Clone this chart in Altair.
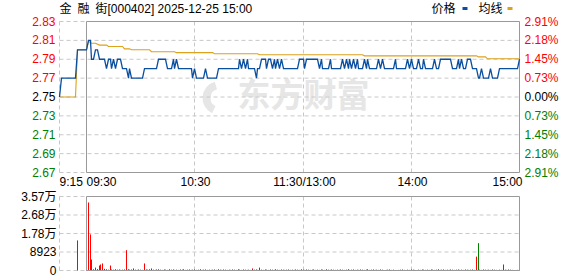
import altair as alt
import pandas as pd

# ---------------- data ----------------
prev_close = 2.75
price_ticks = [2.83, 2.81, 2.79, 2.77, 2.75, 2.73, 2.71, 2.69, 2.67]
price_labels = ["2.83", "2.81", "2.79", "2.77", "2.75", "2.73", "2.71", "2.69", "2.67"]
pct_labels = ["2.91%", "2.18%", "1.45%", "0.73%", "0.00%", "0.73%", "1.45%", "2.18%", "2.91%"]
vol_ticks = [35692, 26769, 17846, 8923, 0]
vol_labels = ["3.57万", "2.68万", "1.78万", "8923", "0"]

# minutes since 9:15 (9:30 = 15, 11:30/13:00 = 135, 15:00 = 255)
time_ticks = [0, 15, 75, 135, 195, 255]
time_labels = ["9:15", "09:30", "10:30", "11:30/13:00", "14:00", "15:00"]
time_align = ["left", "left", "center", "center", "center", "right"]
grid_times = [0, 75, 135, 195]

# call auction 9:15 .. 9:25
pre_price = [2.75, 2.77, 2.77, 2.77, 2.77, 2.77, 2.77, 2.77, 2.77, 2.77, 2.80]
pre_avg = [2.75, 2.75, 2.75, 2.75, 2.75, 2.75, 2.75, 2.75, 2.75, 2.75, 2.80]
pre_vol = [0, 0, 0, 0, 0, 0, 0, 0, 0, 0, 14500]

# continuous session, one value per minute 9:30 .. 15:00 (241 values)
price = [
    2.80, 2.81, 2.81, 2.79, 2.79, 2.80, 2.80, 2.79, 2.79, 2.79,
    2.79, 2.78, 2.79, 2.79, 2.78, 2.79, 2.78, 2.79, 2.79, 2.79,
    2.78, 2.78, 2.78, 2.77, 2.78, 2.77, 2.77, 2.77, 2.77, 2.77,
    2.77, 2.77, 2.78, 2.78, 2.78, 2.78, 2.78, 2.78, 2.78, 2.78,
    2.79, 2.79, 2.79, 2.79, 2.79, 2.78, 2.78, 2.78, 2.79, 2.78,
    2.79, 2.78, 2.78, 2.78, 2.78, 2.78, 2.78, 2.78, 2.78, 2.77,
    2.78, 2.77, 2.77, 2.77, 2.77, 2.77, 2.78, 2.77, 2.77, 2.77,
    2.77, 2.77, 2.77, 2.78, 2.78, 2.78, 2.78, 2.78, 2.78, 2.78,
    2.78, 2.78, 2.78, 2.78, 2.78, 2.79, 2.78, 2.79, 2.78, 2.79,
    2.78, 2.78, 2.78, 2.78, 2.77, 2.78, 2.78, 2.79, 2.79, 2.79,
    2.78, 2.79, 2.79, 2.78, 2.79, 2.78, 2.79, 2.78, 2.79, 2.78,
    2.78, 2.78, 2.78, 2.78, 2.78, 2.78, 2.78, 2.78, 2.79, 2.79,
    2.79, 2.78, 2.79, 2.79, 2.79, 2.79, 2.79, 2.79, 2.79, 2.78,
    2.79, 2.78, 2.78, 2.78, 2.78, 2.79, 2.78, 2.78, 2.78, 2.78,
    2.78, 2.78, 2.79, 2.78, 2.79, 2.78, 2.79, 2.78, 2.79, 2.78,
    2.79, 2.78, 2.78, 2.78, 2.79, 2.78, 2.79, 2.78, 2.78, 2.78,
    2.78, 2.78, 2.79, 2.78, 2.79, 2.78, 2.78, 2.78, 2.78, 2.78,
    2.78, 2.79, 2.78, 2.78, 2.78, 2.78, 2.78, 2.78, 2.79, 2.78,
    2.79, 2.78, 2.78, 2.78, 2.79, 2.78, 2.78, 2.79, 2.78, 2.78,
    2.78, 2.78, 2.78, 2.79, 2.78, 2.78, 2.79, 2.79, 2.79, 2.79,
    2.79, 2.79, 2.79, 2.78, 2.78, 2.78, 2.79, 2.78, 2.79, 2.78,
    2.78, 2.79, 2.79, 2.79, 2.78, 2.78, 2.78, 2.77, 2.77, 2.78,
    2.77, 2.77, 2.77, 2.77, 2.78, 2.77, 2.77, 2.77, 2.77, 2.78,
    2.78, 2.78, 2.78, 2.78, 2.78, 2.78, 2.78, 2.78, 2.78, 2.78,
    2.79,
]

# average price line, read at its step points (minute index, value)
avg_minutes = [0, 1, 3, 5, 7, 11, 12, 20, 21, 24, 25, 35, 36, 49, 50, 70, 71,
               95, 96, 153, 154, 216, 217, 221, 222, 240]
avg_values = [2.800, 2.809, 2.807, 2.807, 2.805, 2.805, 2.8035, 2.8035, 2.801,
              2.801, 2.800, 2.800, 2.798, 2.798, 2.797, 2.797, 2.7958, 2.7958,
              2.7947, 2.7947, 2.7936, 2.7936, 2.7925, 2.7925, 2.7905, 2.7905]

volume = [
    300, 32800, 17400, 5300, 600, 1400, 700, 2400, 2900, 3400,
    800, 600, 400, 2400, 500, 400, 600, 400, 500, 300,
    400, 500, 9800, 600, 400, 500, 1000, 400, 300, 500,
    400, 300, 3400, 500, 400, 600, 1000, 400, 300, 500,
    600, 400, 300, 500, 400, 300, 600, 400, 500, 300,
    400, 300, 500, 400, 600, 300, 400, 500, 300, 400,
    500, 300, 400, 600, 300, 400, 500, 300, 400, 300,
    400, 500, 300, 600, 400, 300, 500, 400, 300, 400,
    300, 500, 400, 300, 600, 400, 300, 500, 400, 300,
    400, 300, 1000, 400, 500, 300, 1400, 400, 300, 500,
    400, 300, 500, 400, 300, 600, 400, 300, 500, 400,
    300, 400, 500, 300, 400, 300, 500, 400, 300, 600,
    400, 300, 500, 400, 300, 400, 500, 300, 400, 300,
    500, 400, 300, 600, 400, 300, 500, 400, 300, 400,
    300, 500, 400, 300, 400, 600, 300, 400, 500, 300,
    400, 300, 500, 400, 300, 400, 600, 300, 400, 500,
    300, 400, 300, 500, 400, 0, 300, 400, 500, 300,
    400, 0, 0, 300, 400, 500, 300, 0, 400, 300,
    500, 400, 300, 0, 400, 300, 500, 400, 300, 400,
    300, 500, 400, 300, 400, 600, 300, 400, 500, 300,
    400, 300, 500, 400, 300, 400, 500, 300, 400, 300,
    500, 400, 300, 400, 500, 300, 6700, 13200, 400, 300,
    500, 400, 300, 400, 300, 500, 400, 300, 0, 400,
    300, 2900, 400, 300, 500, 400, 300, 0, 0, 300,
    1400,
]

title_text = "金\u2002融\u2002街[000402] 2025-12-25 15:00"
legend_labels = ["价格", "均线"]
watermark_text = "东方财富"

# ---------------- styles ----------------
FONT = "Liberation Sans, Arial, Noto Sans CJK SC"
RED = "#ff0000"
GREEN = "#008000"
BLACK = "#000000"
BLUE = "#0a4f9f"
GOLD = "#dba21c"
GRID = "#c8c8c8"
FRAME = "#999999"

X = alt.Scale(domain=[0, 255], range=[0, 460], nice=False, zero=False, round=True)
PY = alt.Scale(domain=[2.67, 2.83], range=[151.5, 0.5], nice=False, zero=False)
VY = alt.Scale(domain=[0, 35692], range=[249.5, 175.5], nice=False, zero=False)

pre_t = list(range(len(pre_price)))
sess_t = [15 + m for m in range(len(price))]
all_t = pre_t + sess_t
all_p = pre_price + price
all_v = pre_vol + volume

line_df = pd.DataFrame({"t": all_t, "p": all_p})
avg_df = pd.DataFrame({"t": pre_t + [15 + m for m in avg_minutes], "a": pre_avg + avg_values})

vcols = []
for i, p in enumerate(all_p):
    prev = all_p[i - 1] if i > 0 else p
    vcols.append(GREEN if p < prev else RED)
vol_df = pd.DataFrame({"t": all_t, "v": all_v, "z": [0] * len(all_t), "c": vcols})
vol_df = vol_df[vol_df["v"] > 0]


def pcol(v):
    if abs(v - prev_close) < 1e-9:
        return BLACK
    return RED if v > prev_close else GREEN


plab_df = pd.DataFrame({
    "v": price_ticks,
    "lab": price_labels,
    "pct": pct_labels,
    "c": [pcol(v) for v in price_ticks],
})
vlab_df = pd.DataFrame({"v": vol_ticks, "lab": vol_labels})
tlab_df = pd.DataFrame({"t": time_ticks, "lab": time_labels, "al": time_align})
vgrid_df = pd.DataFrame({"t": grid_times})
frame_df = pd.DataFrame({"t1": [15], "t2": [255]})
one = pd.DataFrame({"k": [0]})

layers = []

# watermark
layers.append(alt.Chart(one).mark_text(
    text=watermark_text, font="Noto Sans CJK SC", fontSize=33, fontWeight="bold",
    color="#e6e6e6", align="left", baseline="middle").encode(
    x=alt.value(178), y=alt.value(76)))
layers.append(alt.Chart(one).mark_arc(color="#e6e6e6").encode(
    x=alt.value(160), y=alt.value(77), theta=alt.value(3.6), theta2=alt.value(6.0),
    radius=alt.value(17), radius2=alt.value(9)))

# horizontal grids
layers.append(alt.Chart(plab_df).mark_rule(color=GRID, strokeDash=[4, 3], strokeWidth=1).encode(
    y=alt.Y("v:Q", scale=PY, axis=None), x=alt.value(0), x2=alt.value(460)))
layers.append(alt.Chart(vlab_df).mark_rule(color=GRID, strokeDash=[4, 3], strokeWidth=1).encode(
    y=alt.Y("v:Q", scale=VY, axis=None), x=alt.value(0), x2=alt.value(460)))

# vertical grids
layers.append(alt.Chart(vgrid_df).mark_rule(color=GRID, strokeDash=[4, 3], strokeWidth=1).encode(
    x=alt.X("t:Q", scale=X, axis=None), y=alt.value(0.5), y2=alt.value(151.5)))
layers.append(alt.Chart(vgrid_df).mark_rule(color=GRID, strokeDash=[4, 3], strokeWidth=1).encode(
    x=alt.X("t:Q", scale=X, axis=None), y=alt.value(175.5), y2=alt.value(249.5)))

# volume bars
layers.append(alt.Chart(vol_df).mark_rule(strokeWidth=1).encode(
    x=alt.X("t:Q", scale=X, axis=None),
    y=alt.Y("v:Q", scale=VY, axis=None),
    y2=alt.Y2("z:Q"),
    color=alt.Color("c:N", scale=None)))

# frames
layers.append(alt.Chart(frame_df).mark_rect(filled=False, color=FRAME, strokeWidth=1).encode(
    x=alt.X("t1:Q", scale=X, axis=None), x2="t2:Q", y=alt.value(0.5), y2=alt.value(151.5)))
layers.append(alt.Chart(frame_df).mark_rect(filled=False, color=FRAME, strokeWidth=1).encode(
    x=alt.X("t1:Q", scale=X, axis=None), x2="t2:Q", y=alt.value(175.5), y2=alt.value(249.5)))

# average and price lines
layers.append(alt.Chart(avg_df).mark_line(color=GOLD, strokeWidth=1.1).encode(
    x=alt.X("t:Q", scale=X, axis=None), y=alt.Y("a:Q", scale=PY, axis=None)))
layers.append(alt.Chart(line_df).mark_line(color=BLUE, strokeWidth=1.3).encode(
    x=alt.X("t:Q", scale=X, axis=None), y=alt.Y("p:Q", scale=PY, axis=None)))

# price labels (left) and percent labels (right)
layers.append(alt.Chart(plab_df).mark_text(align="right", baseline="middle", font=FONT, fontSize=12).encode(
    y=alt.Y("v:Q", scale=PY, axis=None), x=alt.value(-4), text="lab:N",
    color=alt.Color("c:N", scale=None)))
layers.append(alt.Chart(plab_df).mark_text(align="left", baseline="middle", font=FONT, fontSize=12).encode(
    y=alt.Y("v:Q", scale=PY, axis=None), x=alt.value(465), text="pct:N",
    color=alt.Color("c:N", scale=None)))

# volume labels
layers.append(alt.Chart(vlab_df).mark_text(align="right", baseline="middle", font=FONT, fontSize=12,
                                           color=BLACK).encode(
    y=alt.Y("v:Q", scale=VY, axis=None), x=alt.value(-3), text="lab:N"))

# time labels
for al, dx in [("left", 0), ("center", 1), ("right", 3)]:
    layers.append(alt.Chart(tlab_df).transform_filter(alt.datum.al == al).mark_text(
        align=al, baseline="alphabetic", font=FONT, fontSize=12, color=BLACK, dx=dx).encode(
        x=alt.X("t:Q", scale=X, axis=None), y=alt.value(165), text="lab:N"))

# header and legend
layers.append(alt.Chart(one).mark_text(
    text=title_text, align="left", baseline="alphabetic", font=FONT, fontSize=12, color=BLACK).encode(
    x=alt.value(0), y=alt.value(-8)))
layers.append(alt.Chart(one).mark_text(
    text=legend_labels[0], align="left", baseline="alphabetic", font=FONT, fontSize=12, color=BLACK).encode(
    x=alt.value(372), y=alt.value(-8)))
layers.append(alt.Chart(one).mark_rect(color=BLUE).encode(
    x=alt.value(403), x2=alt.value(408), y=alt.value(-14), y2=alt.value(-11)))
layers.append(alt.Chart(one).mark_text(
    text=legend_labels[1], align="left", baseline="alphabetic", font=FONT, fontSize=12, color=BLACK).encode(
    x=alt.value(419), y=alt.value(-8)))
layers.append(alt.Chart(one).mark_rect(color=GOLD).encode(
    x=alt.value(448), x2=alt.value(453), y=alt.value(-14), y2=alt.value(-11)))

chart = alt.layer(*layers).resolve_scale(y="independent").properties(
    width=460, height=249,
    autosize=alt.AutoSizeParams(type="none"),
    padding={"left": 59.5, "top": 21, "right": 58.5, "bottom": 6},
    background="white",
).configure_view(stroke=None)

chart.save("out.html", embed_options={"renderer": "svg", "actions": False})
